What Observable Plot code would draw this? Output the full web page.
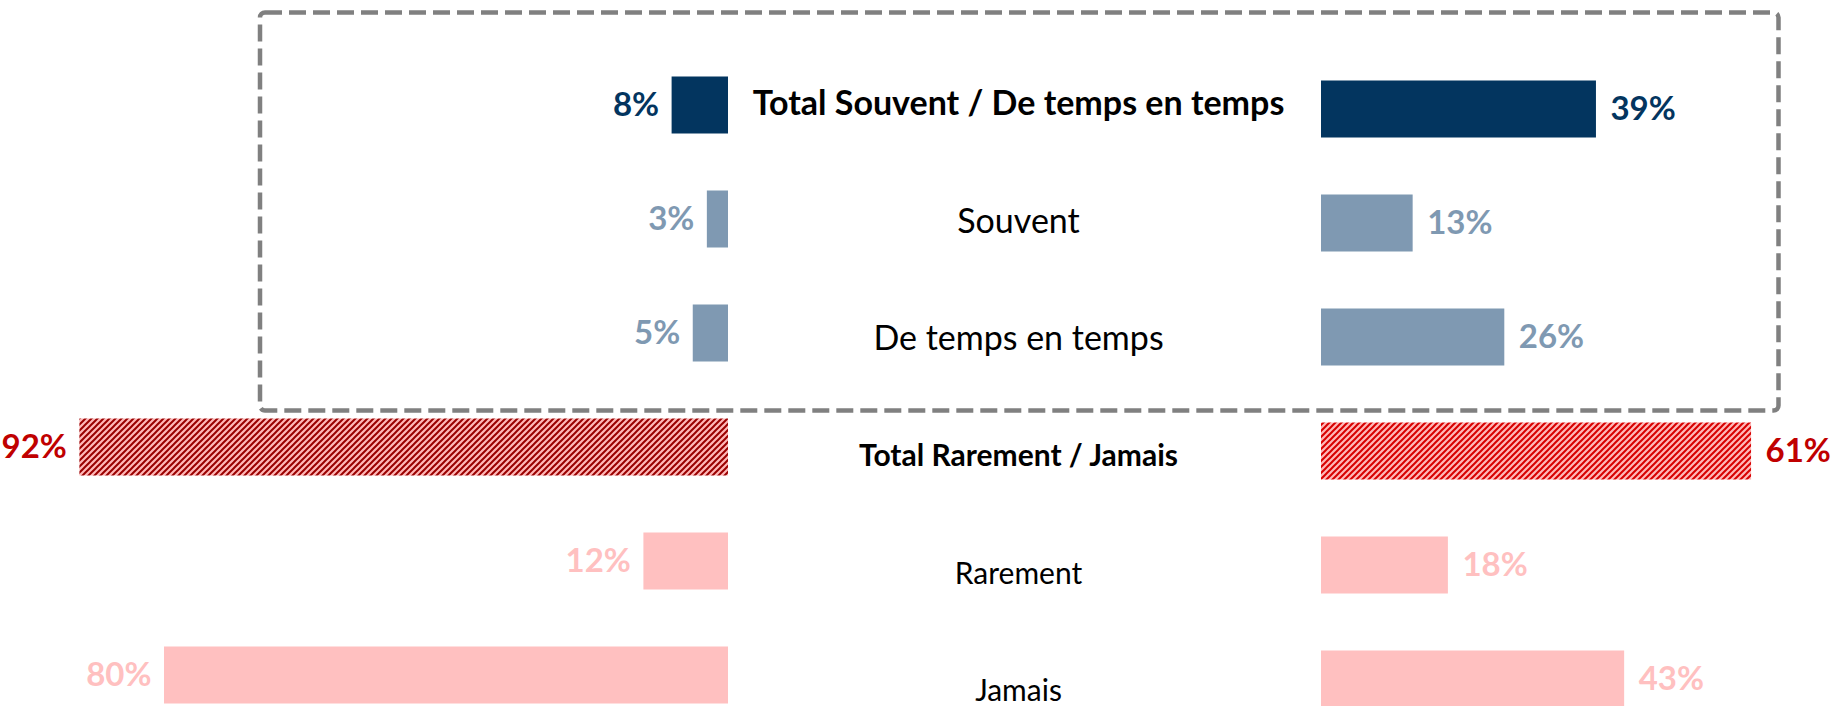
<!DOCTYPE html>
<html>
<head>
<meta charset="utf-8">
<script src="https://cdn.jsdelivr.net/npm/d3@7"></script>
<script src="https://cdn.jsdelivr.net/npm/@observablehq/plot@0.6"></script>
<style>
  html, body { margin: 0; padding: 0; background: #fff; }
  #chart { width: 1848px; height: 706px; }
</style>
</head>
<body>
<div id="chart"></div>
<script>
// ---- data ----
const categories = [
  "Total Souvent / De temps en temps",
  "Souvent",
  "De temps en temps",
  "Total Rarement / Jamais",
  "Rarement",
  "Jamais"
];
const leftValues  = [8, 3, 5, 92, 12, 80];
const rightValues = [39, 13, 26, 61, 18, 43];

// ---- styles (per row) ----
const barFillLeft  = ["#03355F", "#7F99B2", "#7F99B2", "url(#hatchLeft)",  "#FFC0C0", "#FFC0C0"];
const barFillRight = ["#03355F", "#7F99B2", "#7F99B2", "url(#hatchRight)", "#FFC0C0", "#FFC0C0"];
const valueColor   = ["#03355F", "#7F99B2", "#7F99B2", "#C00000", "#FFC0C0", "#FFC0C0"];
const labelBold    = [true, false, false, true, false, false];
const labelSize    = [34, 34, 34, 30, 30, 30];

const rows = categories.map((cat, i) => ({
  cat, i, left: leftValues[i], right: rightValues[i]
}));

const PX_PER_UNIT = 7.05;
const CENTER_PX = 1024.5;
const GAP = 296.5 / PX_PER_UNIT; // half-gap between the two bar groups, in percentage units
const FONT = "Lato, 'Open Sans', sans-serif";

const defsMark = () => {
  const g = d3.create("svg:g");
  const defs = g.append("defs");
  const mk = (id, bg, stroke) => {
    const p = defs.append("pattern")
      .attr("id", id).attr("patternUnits", "userSpaceOnUse")
      .attr("width", 6).attr("height", 6);
    p.append("rect").attr("width", 6).attr("height", 6).attr("fill", bg);
    p.append("path").attr("d", "M-1,1 l2,-2 M0,6 l6,-6 M5,7 l2,-2")
      .attr("stroke", stroke).attr("stroke-width", 2);
  };
  mk("hatchLeft", "#FFB8B8", "#9A0000");
  mk("hatchRight", "#FFB8B8", "#D80000");
  return g.node();
};

const bandInset = 28.5;

const labelMarks = rows.map((d, i) => Plot.text([d], {
  x: () => 0,
  y: "cat",
  text: "cat",
  textAnchor: "middle",
  dx: -6.5,
  dy: -1 + 3.4 * i,
  fill: "#000",
  fontFamily: FONT,
  fontWeight: labelBold[i] ? 700 : 400,
  fontSize: labelSize[i]
}));

const chart = Plot.plot({
  width: 1848,
  height: 706,
  margin: 0,
  style: { background: "#fff" },
  x: { domain: [-CENTER_PX / PX_PER_UNIT, (1848 - CENTER_PX) / PX_PER_UNIT], axis: null },
  y: { domain: categories, range: [47.85, 732.45], padding: 0, axis: null },
  color: { type: "identity" },
  marks: [
    defsMark,
    Plot.frame({
      stroke: "#808080", strokeWidth: 4.5, strokeDasharray: "17,7",
      insetLeft: 259.5, insetRight: 1848 - 1778, insetTop: 12, insetBottom: 706 - 410,
      rx: 5
    }),
    Plot.barX(rows, {
      x1: d => -GAP - d.left, x2: () => -GAP, y: "cat",
      fill: d => barFillLeft[d.i],
      insetTop: bandInset, insetBottom: bandInset
    }),
    Plot.barX(rows, {
      x1: () => GAP, x2: d => GAP + d.right, y: "cat",
      fill: d => barFillRight[d.i],
      insetTop: bandInset + 4, insetBottom: bandInset - 4
    }),
    Plot.text(rows, {
      x: d => -GAP - d.left, y: "cat", text: d => `${d.left}%`,
      textAnchor: "end", dx: -13,
      fill: d => valueColor[d.i],
      fontFamily: FONT, fontWeight: 700, fontSize: 33
    }),
    Plot.text(rows, {
      x: d => GAP + d.right, y: "cat", text: d => `${d.right}%`,
      textAnchor: "start", dx: 14, dy: 4,
      fill: d => valueColor[d.i],
      fontFamily: FONT, fontWeight: 700, fontSize: 33
    }),
    ...labelMarks
  ]
});

document.getElementById("chart").appendChild(chart);
</script>
</body>
</html>
